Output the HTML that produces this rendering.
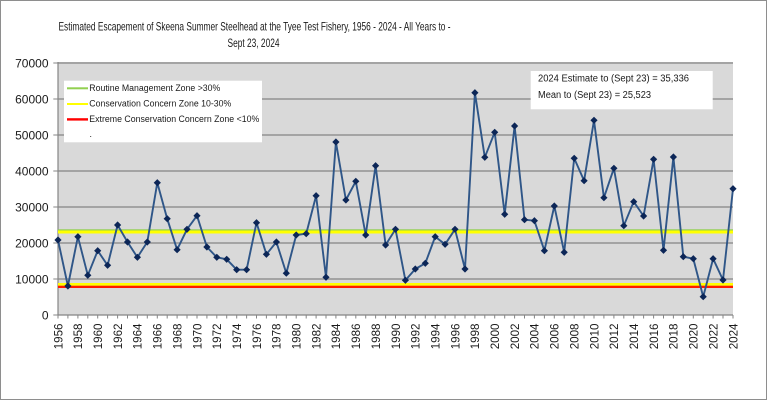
<!DOCTYPE html>
<html>
<head>
<meta charset="utf-8">
<style>
html,body{margin:0;padding:0;background:#fff;}
svg{display:block;}
text{font-family:"Liberation Sans",Arial,sans-serif;fill:#1a1a1a;}
</style>
</head>
<body>
<svg width="768" height="401" viewBox="0 0 768 401" xmlns="http://www.w3.org/2000/svg">
<defs>
<marker id="dm" markerUnits="userSpaceOnUse" markerWidth="10" markerHeight="10" refX="5" refY="5" viewBox="0 0 10 10">
<path d="M5 1.4 L8.6 5 L5 8.6 L1.4 5 Z" fill="#0c2657"/>
</marker>
</defs>
<rect x="0" y="0" width="768" height="401" fill="#fff"/>
<rect x="0.5" y="0.5" width="766" height="399" fill="#fff" stroke="#8e8e8e" stroke-width="1"/>

<!-- title -->
<text x="254.5" y="30.5" font-size="12" text-anchor="middle" textLength="392" lengthAdjust="spacingAndGlyphs">Estimated Escapement of Skeena Summer Steelhead at the Tyee Test Fishery, 1956 - 2024 - All Years to -</text>
<text x="253.5" y="47.2" font-size="12" text-anchor="middle" textLength="52" lengthAdjust="spacingAndGlyphs">Sept 23, 2024</text>

<!-- plot area -->
<rect x="58" y="62" width="675" height="253" fill="#d9d9d9"/>
<g stroke="#858585" stroke-width="1.3">
<line x1="58" y1="63" x2="733" y2="63"/>
<line x1="58" y1="99" x2="733" y2="99"/>
<line x1="58" y1="135" x2="733" y2="135"/>
<line x1="58" y1="171" x2="733" y2="171"/>
<line x1="58" y1="207" x2="733" y2="207"/>
<line x1="58" y1="243" x2="733" y2="243"/>
<line x1="58" y1="279" x2="733" y2="279"/>
</g>
<!-- y ticks -->
<g stroke="#858585" stroke-width="1">
<line x1="53.3" y1="63" x2="58" y2="63"/>
<line x1="53.3" y1="99" x2="58" y2="99"/>
<line x1="53.3" y1="135" x2="58" y2="135"/>
<line x1="53.3" y1="171" x2="58" y2="171"/>
<line x1="53.3" y1="207" x2="58" y2="207"/>
<line x1="53.3" y1="243" x2="58" y2="243"/>
<line x1="53.3" y1="279" x2="58" y2="279"/>
<line x1="53.3" y1="315" x2="58" y2="315"/>
</g>
<line x1="58" y1="62" x2="58" y2="315" stroke="#858585" stroke-width="1.2"/>
<line x1="58" y1="315" x2="733" y2="315" stroke="#858585" stroke-width="1.2"/>

<!-- y labels -->
<g font-size="12" text-anchor="end">
<text x="48.5" y="67.3">70000</text>
<text x="48.5" y="103.3">60000</text>
<text x="48.5" y="139.3">50000</text>
<text x="48.5" y="175.3">40000</text>
<text x="48.5" y="211.3">30000</text>
<text x="48.5" y="247.3">20000</text>
<text x="48.5" y="283.3">10000</text>
<text x="48.5" y="319.3">0</text>
</g>

<!-- reference lines -->
<rect x="58" y="229.3" width="675" height="1.3" fill="#92d050"/>
<rect x="58" y="230.5" width="675" height="3" fill="#ffff00"/>
<rect x="58" y="283" width="675" height="2.8" fill="#ffff00"/>
<rect x="58" y="285.7" width="675" height="2.3" fill="#ff1a00"/>

<!-- x ticks -->
<path stroke="#858585" stroke-width="1" fill="none" d="M58 315v3.5M67.9 315v3.5M77.9 315v3.5M87.8 315v3.5M97.7 315v3.5M107.6 315v3.5M117.6 315v3.5M127.5 315v3.5M137.4 315v3.5M147.3 315v3.5M157.3 315v3.5M167.2 315v3.5M177.1 315v3.5M187 315v3.5M197 315v3.5M206.9 315v3.5M216.8 315v3.5M226.7 315v3.5M236.7 315v3.5M246.6 315v3.5M256.5 315v3.5M266.4 315v3.5M276.4 315v3.5M286.3 315v3.5M296.2 315v3.5M306.2 315v3.5M316.1 315v3.5M326 315v3.5M335.9 315v3.5M345.9 315v3.5M355.8 315v3.5M365.7 315v3.5M375.6 315v3.5M385.6 315v3.5M395.5 315v3.5M405.4 315v3.5M415.3 315v3.5M425.3 315v3.5M435.2 315v3.5M445.1 315v3.5M455 315v3.5M465 315v3.5M474.9 315v3.5M484.8 315v3.5M494.7 315v3.5M504.7 315v3.5M514.6 315v3.5M524.5 315v3.5M534.4 315v3.5M544.4 315v3.5M554.3 315v3.5M564.2 315v3.5M574.2 315v3.5M584.1 315v3.5M594 315v3.5M603.9 315v3.5M613.9 315v3.5M623.8 315v3.5M633.7 315v3.5M643.6 315v3.5M653.6 315v3.5M663.5 315v3.5M673.4 315v3.5M683.3 315v3.5M693.3 315v3.5M703.2 315v3.5M713.1 315v3.5M723 315v3.5M733 315v3.5"/>

<!-- x labels -->
<g font-size="11.6" text-anchor="end">
<text transform="translate(62.3,323.5) rotate(-90)">1956</text>
<text transform="translate(82.2,323.5) rotate(-90)">1958</text>
<text transform="translate(102,323.5) rotate(-90)">1960</text>
<text transform="translate(121.9,323.5) rotate(-90)">1962</text>
<text transform="translate(141.7,323.5) rotate(-90)">1964</text>
<text transform="translate(161.6,323.5) rotate(-90)">1966</text>
<text transform="translate(181.4,323.5) rotate(-90)">1968</text>
<text transform="translate(201.3,323.5) rotate(-90)">1970</text>
<text transform="translate(221.1,323.5) rotate(-90)">1972</text>
<text transform="translate(241,323.5) rotate(-90)">1974</text>
<text transform="translate(260.8,323.5) rotate(-90)">1976</text>
<text transform="translate(280.7,323.5) rotate(-90)">1978</text>
<text transform="translate(300.5,323.5) rotate(-90)">1980</text>
<text transform="translate(320.4,323.5) rotate(-90)">1982</text>
<text transform="translate(340.2,323.5) rotate(-90)">1984</text>
<text transform="translate(360.1,323.5) rotate(-90)">1986</text>
<text transform="translate(379.9,323.5) rotate(-90)">1988</text>
<text transform="translate(399.8,323.5) rotate(-90)">1990</text>
<text transform="translate(419.6,323.5) rotate(-90)">1992</text>
<text transform="translate(439.5,323.5) rotate(-90)">1994</text>
<text transform="translate(459.3,323.5) rotate(-90)">1996</text>
<text transform="translate(479.2,323.5) rotate(-90)">1998</text>
<text transform="translate(499,323.5) rotate(-90)">2000</text>
<text transform="translate(518.9,323.5) rotate(-90)">2002</text>
<text transform="translate(538.7,323.5) rotate(-90)">2004</text>
<text transform="translate(558.6,323.5) rotate(-90)">2006</text>
<text transform="translate(578.5,323.5) rotate(-90)">2008</text>
<text transform="translate(598.3,323.5) rotate(-90)">2010</text>
<text transform="translate(618.2,323.5) rotate(-90)">2012</text>
<text transform="translate(638,323.5) rotate(-90)">2014</text>
<text transform="translate(657.9,323.5) rotate(-90)">2016</text>
<text transform="translate(677.7,323.5) rotate(-90)">2018</text>
<text transform="translate(697.6,323.5) rotate(-90)">2020</text>
<text transform="translate(717.4,323.5) rotate(-90)">2022</text>
<text transform="translate(737.3,323.5) rotate(-90)">2024</text>
</g>

<!-- series -->
<polyline fill="none" stroke="#2f5688" stroke-width="1.9" stroke-linejoin="round" marker-start="url(#dm)" marker-mid="url(#dm)" marker-end="url(#dm)"
points="58.0,240 67.9,286 77.9,236.7 87.8,275.3 97.7,250.7 107.6,265.3 117.6,225 127.5,242 137.4,257.3 147.3,242 157.3,182.7 167.2,218.7 177.1,249.7 187.0,229.3 197.0,215.7 206.9,247 216.8,257.3 226.7,259.3 236.7,269.7 246.6,269.7 256.5,222.7 266.4,254.3 276.4,242 286.3,273.2 296.2,235 306.2,233.7 316.1,195.7 326.0,277.3 335.9,142 345.9,200 355.8,181.3 365.7,235 375.6,165.7 385.6,245 395.5,229.3 405.4,280.3 415.3,269 425.3,263.3 435.2,236.7 445.1,244.3 455.0,229.3 465.0,269 474.9,92.7 484.8,157.3 494.7,132.3 504.7,214.3 514.6,126 524.5,219.7 534.4,220.7 544.4,250.7 554.3,206 564.2,252.3 574.2,158.3 584.1,180.7 594.0,120.3 603.9,197.7 613.9,168.3 623.8,225.7 633.7,201.7 643.6,216 653.6,159.3 663.5,250.3 673.4,157 683.3,256.7 693.3,258.7 703.2,296.7 713.1,258.7 723.0,280 733.0,188.7"/>

<!-- legend box -->
<rect x="64" y="80.7" width="198" height="61.6" fill="#fff"/>
<rect x="67" y="87.3" width="21" height="2" fill="#92d050"/>
<rect x="67" y="103" width="21" height="2" fill="#ffff00"/>
<rect x="67" y="118.2" width="21" height="2.4" fill="#ff0000"/>
<g font-size="8.8">
<text x="89.3" y="91" textLength="131" lengthAdjust="spacingAndGlyphs">Routine Management Zone &gt;30%</text>
<text x="89.3" y="106.5" textLength="142" lengthAdjust="spacingAndGlyphs">Conservation Concern Zone 10-30%</text>
<text x="89.3" y="121.8" textLength="170" lengthAdjust="spacingAndGlyphs">Extreme Conservation Concern Zone &lt;10%</text>
<text x="89.5" y="137" fill="#888">.</text>
</g>

<!-- annotation box -->
<rect x="530.7" y="71" width="182" height="38.3" fill="#fff"/>
<g font-size="10">
<text x="538" y="81.7" textLength="151" lengthAdjust="spacingAndGlyphs">2024 Estimate to (Sept 23) =  35,336</text>
<text x="538" y="98.2" textLength="113" lengthAdjust="spacingAndGlyphs">Mean to (Sept 23) = 25,523</text>
</g>
</svg>
</body>
</html>
